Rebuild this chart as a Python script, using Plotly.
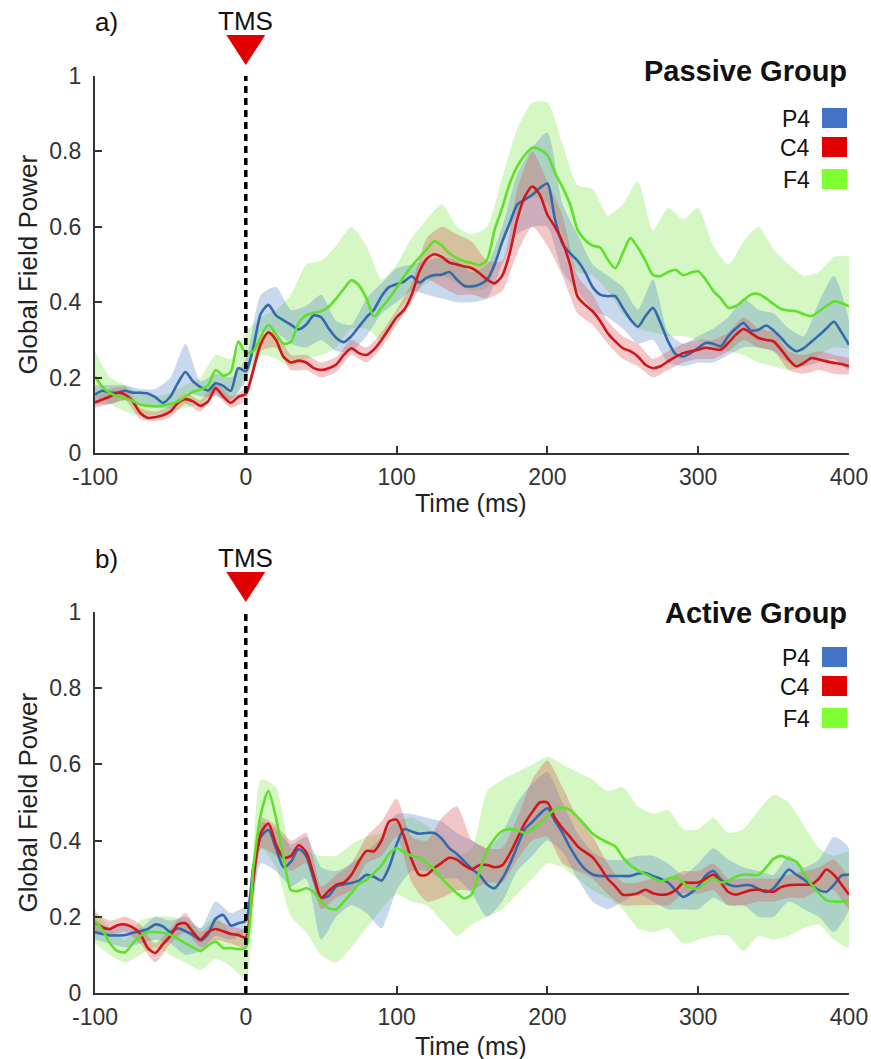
import plotly.graph_objects as go

# ---------------- data ----------------
time_ms = list(range(-100, 401, 5))
band_ms = list(range(-100, 401, 10))
x_ticks = [-100, 0, 100, 200, 300, 400]
x_ticktext = ["-100", "0", "100", "200", "300", "400"]
y_ticks = [0, 0.2, 0.4, 0.6, 0.8, 1]
y_ticktext = ["0", "0.2", "0.4", "0.6", "0.8", "1"]
channels = ["P4", "C4", "F4"]

# Passive group (panel a) - mean global field power
pas_p4 = [0.155, 0.165, 0.160, 0.160, 0.165, 0.160, 0.160, 0.158, 0.148, 0.133,
          0.150, 0.186, 0.215, 0.190, 0.175, 0.166, 0.185, 0.178, 0.165, 0.225,
          0.217, 0.280, 0.370, 0.393, 0.365, 0.352, 0.340, 0.328, 0.340, 0.365,
          0.360, 0.330, 0.305, 0.294, 0.310, 0.335, 0.360, 0.380, 0.416, 0.440,
          0.448, 0.455, 0.469, 0.452, 0.465, 0.472, 0.473, 0.480, 0.460, 0.443,
          0.442, 0.447, 0.460, 0.500, 0.560, 0.610, 0.659, 0.672, 0.685, 0.703,
          0.715, 0.620, 0.555, 0.530, 0.510, 0.480, 0.440, 0.420, 0.416, 0.416,
          0.385, 0.355, 0.335, 0.363, 0.385, 0.345, 0.296, 0.262, 0.256, 0.265,
          0.279, 0.292, 0.290, 0.283, 0.310, 0.330, 0.345, 0.325, 0.327, 0.338,
          0.325, 0.305, 0.283, 0.270, 0.278, 0.295, 0.312, 0.330, 0.348, 0.320,
          0.287]
pas_c4 = [0.134, 0.142, 0.150, 0.160, 0.155, 0.137, 0.106, 0.093, 0.095, 0.100,
          0.110, 0.133, 0.143, 0.137, 0.125, 0.137, 0.172, 0.150, 0.133, 0.149,
          0.157, 0.220, 0.290, 0.320, 0.300, 0.255, 0.240, 0.245, 0.240, 0.225,
          0.220, 0.225, 0.235, 0.260, 0.278, 0.265, 0.260, 0.275, 0.300, 0.330,
          0.360, 0.380, 0.420, 0.480, 0.515, 0.527, 0.520, 0.505, 0.500, 0.495,
          0.490, 0.477, 0.460, 0.450, 0.470, 0.530, 0.620, 0.680, 0.707, 0.685,
          0.632, 0.600, 0.560, 0.500, 0.415, 0.393, 0.376, 0.350, 0.318, 0.296,
          0.278, 0.270, 0.256, 0.234, 0.225, 0.230, 0.243, 0.255, 0.265, 0.270,
          0.274, 0.279, 0.276, 0.274, 0.292, 0.314, 0.329, 0.318, 0.305, 0.300,
          0.296, 0.274, 0.248, 0.230, 0.239, 0.252, 0.248, 0.243, 0.239, 0.236,
          0.230]
pas_f4 = [0.203, 0.175, 0.159, 0.150, 0.146, 0.138, 0.128, 0.125, 0.124, 0.126,
          0.130, 0.137, 0.150, 0.162, 0.168, 0.180, 0.220, 0.205, 0.215, 0.296,
          0.265, 0.270, 0.310, 0.340, 0.315, 0.290, 0.295, 0.345, 0.365, 0.372,
          0.376, 0.388, 0.410, 0.435, 0.458, 0.445, 0.410, 0.362, 0.385, 0.410,
          0.438, 0.469, 0.495, 0.518, 0.540, 0.562, 0.550, 0.530, 0.517, 0.508,
          0.504, 0.498, 0.513, 0.592, 0.650, 0.715, 0.760, 0.790, 0.810, 0.805,
          0.790, 0.743, 0.705, 0.660, 0.592, 0.565, 0.550, 0.545, 0.513, 0.490,
          0.530, 0.570, 0.545, 0.510, 0.472, 0.469, 0.480, 0.486, 0.472, 0.478,
          0.482, 0.460, 0.430, 0.410, 0.385, 0.390, 0.405, 0.420, 0.422, 0.410,
          0.395, 0.382, 0.378, 0.376, 0.368, 0.363, 0.375, 0.390, 0.402, 0.398,
          0.389]

# Passive group - shaded error bands (lower / upper)
pas_p4_lo = [0.130, 0.130, 0.140, 0.130, 0.120, 0.120, 0.160, 0.150, 0.150, 0.140,
             0.190, 0.320, 0.320, 0.290, 0.280, 0.300, 0.270, 0.270, 0.310, 0.370,
             0.400, 0.430, 0.420, 0.410, 0.400, 0.400, 0.410, 0.500, 0.580, 0.600,
             0.600, 0.480, 0.430, 0.380, 0.360, 0.330, 0.290, 0.300, 0.240, 0.230,
             0.240, 0.240, 0.260, 0.280, 0.280, 0.270, 0.240, 0.230, 0.240, 0.250,
             0.220]
pas_p4_hi = [0.180, 0.180, 0.180, 0.170, 0.170, 0.200, 0.290, 0.190, 0.210, 0.200,
             0.250, 0.420, 0.440, 0.380, 0.390, 0.420, 0.350, 0.340, 0.410, 0.450,
             0.490, 0.500, 0.510, 0.520, 0.510, 0.480, 0.500, 0.600, 0.740, 0.810,
             0.850, 0.660, 0.580, 0.500, 0.470, 0.440, 0.380, 0.460, 0.320, 0.290,
             0.310, 0.330, 0.360, 0.410, 0.380, 0.370, 0.330, 0.310, 0.400, 0.470,
             0.350]
pas_c4_lo = [0.120, 0.130, 0.140, 0.090, 0.085, 0.095, 0.130, 0.110, 0.155, 0.120,
             0.140, 0.270, 0.280, 0.220, 0.220, 0.200, 0.215, 0.260, 0.240, 0.280,
             0.340, 0.400, 0.460, 0.440, 0.420, 0.420, 0.410, 0.430, 0.530, 0.600,
             0.550, 0.470, 0.370, 0.340, 0.290, 0.250, 0.230, 0.200, 0.220, 0.240,
             0.250, 0.250, 0.270, 0.300, 0.280, 0.270, 0.220, 0.210, 0.220, 0.210,
             0.210]
pas_c4_hi = [0.150, 0.170, 0.175, 0.120, 0.110, 0.125, 0.160, 0.140, 0.190, 0.150,
             0.175, 0.310, 0.320, 0.260, 0.260, 0.240, 0.255, 0.300, 0.280, 0.320,
             0.380, 0.450, 0.570, 0.600, 0.580, 0.560, 0.510, 0.510, 0.700, 0.800,
             0.720, 0.630, 0.470, 0.420, 0.350, 0.310, 0.290, 0.250, 0.270, 0.290,
             0.300, 0.300, 0.320, 0.360, 0.330, 0.320, 0.270, 0.260, 0.270, 0.260,
             0.250]
pas_f4_lo = [0.150, 0.130, 0.110, 0.100, 0.100, 0.110, 0.120, 0.130, 0.160, 0.140,
             0.200, 0.260, 0.250, 0.230, 0.250, 0.260, 0.280, 0.330, 0.330, 0.300,
             0.370, 0.420, 0.450, 0.470, 0.450, 0.430, 0.440, 0.550, 0.640, 0.680,
             0.660, 0.580, 0.480, 0.470, 0.430, 0.370, 0.330, 0.320, 0.310, 0.310,
             0.300, 0.280, 0.270, 0.260, 0.240, 0.230, 0.220, 0.230, 0.260, 0.280,
             0.280]
pas_f4_hi = [0.270, 0.200, 0.180, 0.160, 0.150, 0.160, 0.180, 0.200, 0.260, 0.250,
             0.320, 0.360, 0.380, 0.420, 0.500, 0.510, 0.550, 0.600, 0.550, 0.460,
             0.500, 0.570, 0.620, 0.660, 0.600, 0.580, 0.600, 0.730, 0.860, 0.930,
             0.930, 0.820, 0.710, 0.700, 0.630, 0.660, 0.720, 0.590, 0.650, 0.620,
             0.650, 0.550, 0.500, 0.560, 0.600, 0.540, 0.500, 0.470, 0.480, 0.520,
             0.520]

# Active group (panel b) - mean global field power
act_p4 = [0.160, 0.155, 0.151, 0.151, 0.152, 0.158, 0.162, 0.168, 0.180, 0.175,
          0.160, 0.170, 0.162, 0.152, 0.138, 0.155, 0.195, 0.205, 0.177, 0.183,
          0.190, 0.330, 0.410, 0.428, 0.380, 0.330, 0.345, 0.378, 0.360, 0.300,
          0.250, 0.255, 0.280, 0.285, 0.289, 0.295, 0.310, 0.305, 0.295, 0.330,
          0.390, 0.430, 0.424, 0.418, 0.420, 0.420, 0.405, 0.380, 0.365, 0.345,
          0.325, 0.310, 0.285, 0.275, 0.300, 0.338, 0.385, 0.430, 0.449, 0.470,
          0.485, 0.452, 0.420, 0.382, 0.350, 0.325, 0.311, 0.307, 0.307, 0.307,
          0.307, 0.307, 0.313, 0.315, 0.307, 0.300, 0.290, 0.270, 0.252, 0.262,
          0.280, 0.308, 0.320, 0.298, 0.285, 0.280, 0.283, 0.283, 0.273, 0.265,
          0.275, 0.300, 0.324, 0.311, 0.298, 0.283, 0.270, 0.266, 0.284, 0.308,
          0.311]
act_c4 = [0.186, 0.172, 0.168, 0.178, 0.180, 0.172, 0.155, 0.118, 0.105, 0.128,
          0.150, 0.180, 0.183, 0.160, 0.140, 0.160, 0.168, 0.162, 0.155, 0.152,
          0.146, 0.300, 0.420, 0.445, 0.390, 0.355, 0.360, 0.388, 0.370, 0.310,
          0.250, 0.268, 0.284, 0.290, 0.310, 0.345, 0.373, 0.372, 0.400, 0.450,
          0.455, 0.410, 0.350, 0.310, 0.310, 0.328, 0.342, 0.355, 0.350, 0.335,
          0.325, 0.336, 0.336, 0.330, 0.335, 0.365, 0.405, 0.445, 0.475, 0.500,
          0.500, 0.460, 0.432, 0.410, 0.385, 0.370, 0.356, 0.330, 0.300, 0.280,
          0.258, 0.258, 0.262, 0.271, 0.262, 0.258, 0.260, 0.270, 0.289, 0.289,
          0.290, 0.300, 0.311, 0.290, 0.265, 0.258, 0.264, 0.270, 0.271, 0.268,
          0.266, 0.278, 0.283, 0.284, 0.284, 0.285, 0.300, 0.324, 0.310, 0.285,
          0.258]
act_f4 = [0.190, 0.165, 0.130, 0.110, 0.107, 0.130, 0.150, 0.160, 0.160, 0.158,
          0.153, 0.142, 0.130, 0.120, 0.110, 0.125, 0.135, 0.118, 0.118, 0.115,
          0.119, 0.330, 0.470, 0.530, 0.460, 0.356, 0.270, 0.268, 0.275, 0.265,
          0.240, 0.222, 0.220, 0.240, 0.262, 0.287, 0.297, 0.315, 0.335, 0.365,
          0.380, 0.370, 0.360, 0.356, 0.342, 0.325, 0.300, 0.280, 0.262, 0.248,
          0.260, 0.320, 0.375, 0.405, 0.425, 0.430, 0.427, 0.420, 0.430, 0.445,
          0.465, 0.482, 0.487, 0.480, 0.462, 0.440, 0.418, 0.405, 0.395, 0.385,
          0.356, 0.335, 0.322, 0.312, 0.302, 0.293, 0.300, 0.305, 0.290, 0.275,
          0.275, 0.290, 0.302, 0.290, 0.295, 0.305, 0.311, 0.310, 0.310, 0.329,
          0.352, 0.360, 0.352, 0.345, 0.315, 0.285, 0.262, 0.244, 0.240, 0.240,
          0.240]

# Active group - shaded error bands (lower / upper)
act_p4_lo = [0.140, 0.130, 0.120, 0.130, 0.140, 0.130, 0.100, 0.110, 0.150, 0.140,
             0.160, 0.340, 0.320, 0.280, 0.300, 0.140, 0.200, 0.230, 0.210, 0.170,
             0.270, 0.320, 0.320, 0.300, 0.300, 0.260, 0.200, 0.240, 0.320, 0.360,
             0.400, 0.370, 0.300, 0.240, 0.220, 0.240, 0.260, 0.240, 0.220, 0.220,
             0.220, 0.250, 0.230, 0.230, 0.200, 0.200, 0.240, 0.220, 0.200, 0.160,
             0.220]
act_p4_hi = [0.190, 0.170, 0.180, 0.170, 0.200, 0.190, 0.200, 0.170, 0.240, 0.210,
             0.230, 0.450, 0.430, 0.390, 0.410, 0.330, 0.320, 0.340, 0.370, 0.410,
             0.470, 0.470, 0.460, 0.450, 0.420, 0.400, 0.380, 0.420, 0.500, 0.550,
             0.580, 0.500, 0.420, 0.370, 0.350, 0.350, 0.360, 0.360, 0.340, 0.310,
             0.340, 0.380, 0.350, 0.330, 0.320, 0.310, 0.360, 0.330, 0.350, 0.410,
             0.380]
act_c4_lo = [0.160, 0.150, 0.160, 0.130, 0.080, 0.130, 0.160, 0.120, 0.140, 0.130,
             0.120, 0.380, 0.360, 0.320, 0.340, 0.220, 0.250, 0.270, 0.340, 0.360,
             0.410, 0.290, 0.240, 0.250, 0.270, 0.270, 0.290, 0.290, 0.350, 0.400,
             0.410, 0.340, 0.320, 0.300, 0.260, 0.230, 0.230, 0.230, 0.230, 0.260,
             0.260, 0.270, 0.230, 0.230, 0.240, 0.240, 0.250, 0.250, 0.270, 0.270,
             0.220]
act_c4_hi = [0.210, 0.190, 0.200, 0.180, 0.130, 0.170, 0.210, 0.160, 0.190, 0.175,
             0.170, 0.460, 0.440, 0.400, 0.420, 0.280, 0.310, 0.340, 0.410, 0.450,
             0.510, 0.410, 0.400, 0.460, 0.490, 0.400, 0.380, 0.380, 0.460, 0.560,
             0.610, 0.540, 0.460, 0.410, 0.340, 0.290, 0.290, 0.300, 0.300, 0.320,
             0.320, 0.340, 0.300, 0.300, 0.300, 0.300, 0.310, 0.320, 0.330, 0.350,
             0.300]
act_f4_lo = [0.130, 0.100, 0.080, 0.100, 0.120, 0.100, 0.080, 0.060, 0.090, 0.070,
             0.035, 0.380, 0.330, 0.200, 0.160, 0.100, 0.080, 0.120, 0.170, 0.220,
             0.260, 0.240, 0.230, 0.190, 0.150, 0.180, 0.200, 0.220, 0.260, 0.300,
             0.340, 0.330, 0.300, 0.270, 0.250, 0.220, 0.170, 0.160, 0.170, 0.130,
             0.140, 0.150, 0.150, 0.110, 0.150, 0.140, 0.150, 0.170, 0.180, 0.140,
             0.120]
act_f4_hi = [0.220, 0.170, 0.140, 0.190, 0.200, 0.200, 0.190, 0.170, 0.200, 0.160,
             0.170, 0.560, 0.540, 0.380, 0.370, 0.360, 0.360, 0.390, 0.410, 0.420,
             0.450, 0.460, 0.440, 0.400, 0.360, 0.380, 0.530, 0.560, 0.580, 0.600,
             0.620, 0.600, 0.580, 0.560, 0.530, 0.540, 0.490, 0.470, 0.480, 0.430,
             0.430, 0.460, 0.420, 0.430, 0.480, 0.520, 0.500, 0.440, 0.380, 0.360,
             0.370]

# ---------------- styling ----------------
FONT = "Liberation Sans, Arial, Helvetica, sans-serif"
W, H = 871, 1059
L, R, T, B = 95, 22, 76, 66
PW, PH = W - L - R, H - T - B
X_MIN, X_MAX = -100, 400


def px(x):
    return (x - L) / PW


def py(y):
    return (H - B - y) / PH


line_col = {"P4": "#3569ad", "C4": "#d3161b", "F4": "#5fe02a"}
band_col = {"P4": "rgba(89,138,200,0.33)", "C4": "rgba(218,86,86,0.33)",
            "F4": "rgba(135,232,89,0.36)"}
swatch_col = {"P4": "#4472c4", "C4": "#e00000", "F4": "#80ff33"}

panels = [
    dict(name="Passive Group", label="a)", xa="x", ya="y",
         mean={"P4": pas_p4, "C4": pas_c4, "F4": pas_f4},
         lo={"P4": pas_p4_lo, "C4": pas_c4_lo, "F4": pas_f4_lo},
         hi={"P4": pas_p4_hi, "C4": pas_c4_hi, "F4": pas_f4_hi},
         top=76, bottom=453, title_y=70.5, leg_y=[118, 147, 179],
         tms_y=21, tri=(35, 65), xt_y=503),
    dict(name="Active Group", label="b)", xa="x2", ya="y2",
         mean={"P4": act_p4, "C4": act_c4, "F4": act_f4},
         lo={"P4": act_p4_lo, "C4": act_c4_lo, "F4": act_f4_lo},
         hi={"P4": act_p4_hi, "C4": act_c4_hi, "F4": act_f4_hi},
         top=612, bottom=993, title_y=612.5, leg_y=[657, 686, 718],
         tms_y=558, tri=(572, 602), xt_y=1046),
]

fig = go.Figure()
shapes, annotations = [], []

for p in panels:
    for ch in ["F4", "P4", "C4"]:
        fig.add_trace(go.Scatter(
            x=band_ms + band_ms[::-1], y=p["hi"][ch] + p["lo"][ch][::-1],
            xaxis=p["xa"], yaxis=p["ya"], mode="lines", fill="toself",
            fillcolor=band_col[ch], line=dict(width=0, shape="spline", smoothing=0.6),
            hoverinfo="skip", showlegend=False))
    for ch in ["P4", "C4", "F4"]:
        fig.add_trace(go.Scatter(
            x=time_ms, y=p["mean"][ch], xaxis=p["xa"], yaxis=p["ya"], mode="lines",
            line=dict(color=line_col[ch], width=2.6, shape="spline", smoothing=0.7),
            name=ch, showlegend=False))

    # TMS marker line
    shapes.append(dict(type="line", xref=p["xa"], yref=p["ya"], x0=0, x1=0, y0=0, y1=1,
                       line=dict(color="black", width=3.5, dash="7px,5px"), layer="above"))
    xc = L + (0 - X_MIN) / (X_MAX - X_MIN) * PW
    t0, t1 = p["tri"]
    shapes.append(dict(type="path", xref="paper", yref="paper",
                       path=f"M {px(xc-19.5)},{py(t0)} L {px(xc+19.5)},{py(t0)} L {px(xc)},{py(t1)} Z",
                       fillcolor="#e00000", line=dict(width=0)))
    annotations.append(dict(text="TMS", xref="paper", yref="paper", x=px(xc), y=py(p["tms_y"]),
                            xanchor="center", yanchor="middle", showarrow=False,
                            font=dict(family=FONT, size=26, color="#111")))
    annotations.append(dict(text=p["label"], xref="paper", yref="paper", x=px(93), y=py(p["tms_y"] + 1),
                            xanchor="left", yanchor="middle", showarrow=False,
                            font=dict(family=FONT, size=26, color="#111")))
    annotations.append(dict(text=f"<b>{p['name']}</b>", xref="paper", yref="paper", x=px(849),
                            y=py(p["title_y"]), xanchor="right", yanchor="middle", showarrow=False,
                            font=dict(family=FONT, size=29, color="#111")))
    for ch, yy in zip(channels, p["leg_y"]):
        shapes.append(dict(type="rect", xref="paper", yref="paper", x0=px(822), x1=px(847),
                           y0=py(yy + 10), y1=py(yy - 10), fillcolor=swatch_col[ch], line=dict(width=0)))
        annotations.append(dict(text=ch, xref="paper", yref="paper", x=px(812), y=py(yy + 1),
                                xanchor="right", yanchor="middle", showarrow=False,
                                font=dict(family=FONT, size=23, color="#111")))
    annotations.append(dict(text="Time (ms)", xref="paper", yref="paper", x=px(471), y=py(p["xt_y"]),
                            xanchor="center", yanchor="middle", showarrow=False,
                            font=dict(family=FONT, size=25, color="#222")))
    annotations.append(dict(text="Global Field Power", xref="paper", yref="paper", x=px(27),
                            y=py((p["top"] + p["bottom"]) / 2), xanchor="center", yanchor="middle",
                            textangle=-90, showarrow=False,
                            font=dict(family=FONT, size=26, color="#222")))

axis_style = dict(showline=True, linecolor="#333", linewidth=2.2, ticks="inside", ticklen=7,
                  tickwidth=2, tickcolor="#333", showgrid=False, zeroline=False,
                  tickfont=dict(family=FONT, size=23, color="#333"))

fig.update_layout(
    width=W, height=H, margin=dict(l=L, r=R, t=T, b=B, autoexpand=False),
    paper_bgcolor="white", plot_bgcolor="white", showlegend=False,
    xaxis=dict(domain=[0, 1], range=[X_MIN, X_MAX], anchor="y", tickvals=x_ticks,
               ticktext=x_ticktext, ticklabelstandoff=2, **axis_style),
    yaxis=dict(domain=[py(453), py(76)], range=[0, 1], anchor="x", tickvals=y_ticks,
               ticktext=y_ticktext, ticklabelstandoff=7, **axis_style),
    xaxis2=dict(domain=[0, 1], range=[X_MIN, X_MAX], anchor="y2", tickvals=x_ticks,
                ticktext=x_ticktext, ticklabelstandoff=2, **axis_style),
    yaxis2=dict(domain=[py(993), py(612)], range=[0, 1], anchor="x2", tickvals=y_ticks,
                ticktext=y_ticktext, ticklabelstandoff=7, **axis_style),
    shapes=shapes, annotations=annotations,
)

fig.write_html("out.html", config={"displayModeBar": False},
               post_script="document.body.style.margin='0';document.body.style.overflow='hidden';")
